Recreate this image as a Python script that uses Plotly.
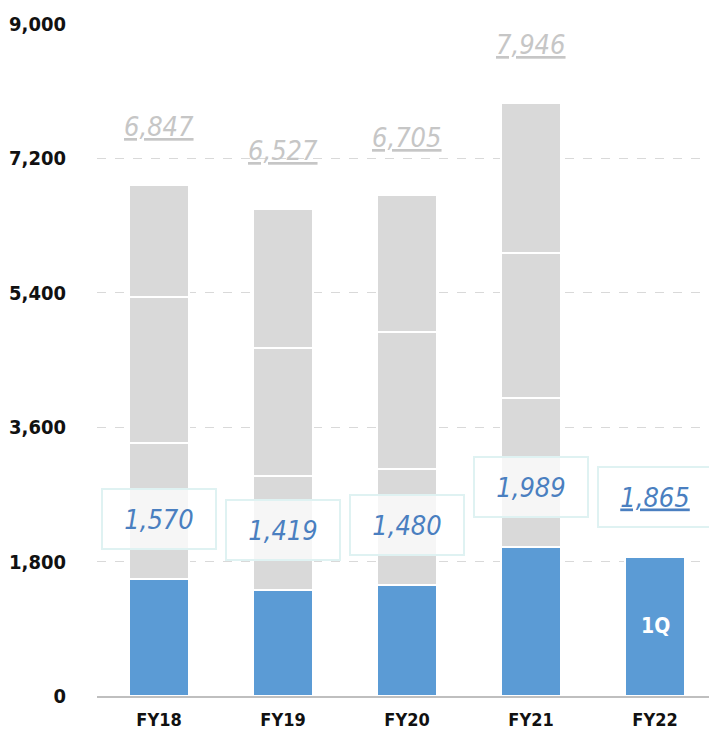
import plotly.graph_objects as go

categories = ["FY18", "FY19", "FY20", "FY21", "FY22"]
q1 = [1570, 1419, 1480, 1989, 1865]
q2 = [1818, 1527, 1560, 2002, None]
q3 = [1955, 1714, 1835, 1942, None]
q4 = [1504, 1867, 1830, 2013, None]
totals = [6847, 6527, 6705, 7946, None]
tick_vals = [0, 1800, 3600, 5400, 7200, 9000]
tick_text = ["0", "1,800", "3,600", "5,400", "7,200", "9,000"]

BLUE = "#5b9bd5"
GRAY = "#d9d9d9"
FONT = "DejaVu Sans Condensed"

fig = go.Figure()
for vals, col in [(q1, BLUE), (q2, GRAY), (q3, GRAY), (q4, GRAY)]:
    fig.add_trace(go.Bar(x=categories, y=vals, marker=dict(color=col, line=dict(color="white", width=2)),
                         width=0.49, hoverinfo="skip"))

ann = []
for c, t in zip(categories, totals):
    if t is None:
        continue
    ann.append(dict(x=c, y=t, yshift=58, text=f"<i><u>{t:,}</u></i>", showarrow=False,
                    font=dict(family=FONT, size=27, color="#c6c6c6")))
for i, (c, v) in enumerate(zip(categories, q1)):
    txt = f"<i>{v:,}</i>" if i < 4 else f"<i><u>{v:,}</u></i>"
    ann.append(dict(x=c, y=v, yshift=60, text=txt, showarrow=False,
                    font=dict(family=FONT, size=27, color="#4a7fc0"),
                    bgcolor="rgba(255,255,255,0.75)", bordercolor="#dff2f2", borderwidth=2,
                    width=110, height=56))
ann.append(dict(x="FY22", y=q1[4] / 2, text="<b>1Q</b>", showarrow=False,
                font=dict(family=FONT, size=21, color="white")))

fig.update_layout(
    barmode="stack", showlegend=False, width=709, height=725,
    margin=dict(l=89, r=0, t=16, b=37),
    plot_bgcolor="white", paper_bgcolor="white",
    annotations=ann,
    xaxis=dict(showgrid=False, showline=True, linecolor="#bfbfbf", linewidth=2, ticks="",
               tickfont=dict(family=FONT, size=18, color="#111", weight="bold"), ticklabelstandoff=6),
    yaxis=dict(range=[0, 9000], tickvals=tick_vals, ticktext=tick_text, showgrid=True,
               gridcolor="#d9d9d9", griddash="dash", gridwidth=1, zeroline=False, showline=False,
               tickfont=dict(family=FONT, size=20, color="#111", weight="bold"), ticklabelstandoff=30),
)
fig.write_html("out.html")
